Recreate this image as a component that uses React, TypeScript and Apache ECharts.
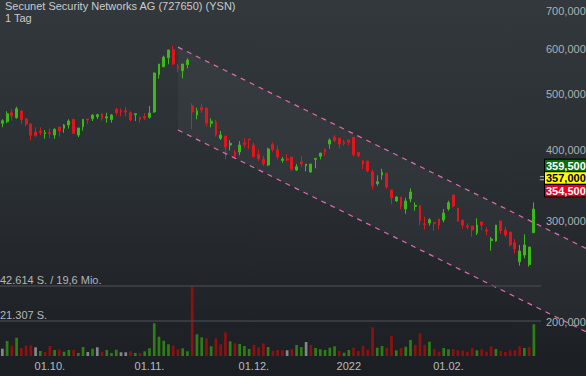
import React, { useEffect, useRef } from "react";
import * as echarts from "echarts";

const TITLE = "Secunet Security Networks AG (727650) (YSN)";
const PERIOD = "1 Tag";

// daily candles, EUR: [open, close, low, high]
const candles: number[][] = [
  [445.0, 449.6, 437.9, 452.2], [447.8, 462.4, 445.0, 467.0], [464.3, 458.7, 449.6, 470.7], [455.1, 471.9, 453.3, 475.7],
  [467.5, 451.4, 443.2, 468.8], [452.7, 443.7, 439.6, 454.5], [443.7, 423.9, 415.5, 445.0], [429.6, 423.2, 421.5, 437.9],
  [431.4, 428.9, 423.9, 437.9], [426.7, 428.5, 418.2, 433.1], [428.9, 427.2, 418.9, 436.1], [424.4, 434.3, 418.2, 436.1],
  [438.4, 431.4, 421.5, 438.4], [436.1, 441.9, 428.2, 443.7], [441.9, 449.1, 435.4, 452.2], [452.2, 427.2, 426.1, 452.2],
  [424.4, 436.7, 421.0, 436.7], [438.9, 452.2, 431.9, 452.2], [452.7, 450.9, 443.2, 452.7], [453.3, 460.0, 449.1, 461.3],
  [456.9, 460.6, 452.7, 462.4], [461.9, 454.0, 449.6, 463.2], [454.5, 456.9, 446.1, 464.3], [451.8, 460.0, 446.1, 461.9],
  [470.7, 464.3, 459.5, 473.2], [468.1, 466.2, 457.6, 472.6], [468.1, 465.6, 457.6, 475.1], [464.3, 450.9, 448.6, 467.0],
  [460.6, 462.4, 449.1, 463.8], [455.8, 452.2, 446.1, 457.6], [456.9, 454.5, 450.9, 463.8], [455.8, 463.8, 453.3, 477.0],
  [465.6, 544.8, 464.3, 545.5], [541.1, 564.9, 532.4, 564.9], [558.8, 581.0, 557.5, 584.1], [579.4, 597.6, 564.2, 597.6],
  [598.3, 564.9, 562.6, 607.3], [560.3, 555.9, 546.3, 564.9], [549.9, 564.9, 533.3, 564.9], [563.3, 574.0, 555.2, 578.0],
  [477.6, 465.6, 434.3, 482.2], [460.0, 468.1, 452.2, 473.8], [474.5, 469.4, 463.8, 481.4], [473.2, 445.0, 439.6, 473.2],
  [445.0, 448.6, 437.9, 454.0], [447.3, 424.4, 421.5, 450.9], [418.9, 424.4, 416.0, 431.4], [422.7, 404.9, 384.9, 422.7],
  [407.7, 410.5, 399.1, 415.5], [396.4, 390.1, 386.4, 399.6], [396.4, 407.7, 391.1, 414.3], [411.5, 408.8, 403.9, 418.9],
  [417.7, 416.5, 401.7, 417.7], [407.7, 389.0, 388.0, 411.5], [392.7, 385.8, 382.7, 400.7], [385.3, 377.7, 374.7, 390.5],
  [376.2, 401.2, 374.7, 403.3], [408.8, 400.1, 396.9, 412.2], [400.1, 389.0, 384.9, 407.2], [383.3, 385.3, 379.6, 388.5],
  [385.8, 383.8, 381.8, 393.2], [388.5, 370.2, 367.3, 388.5], [368.7, 373.6, 367.3, 377.7], [381.2, 377.7, 373.2, 389.6],
  [375.1, 377.7, 366.8, 377.7], [365.8, 377.7, 364.7, 377.7], [384.9, 386.4, 371.2, 386.4], [389.6, 394.8, 384.9, 394.8],
  [401.2, 396.9, 390.1, 401.2], [409.3, 416.0, 401.7, 418.9], [420.6, 414.9, 412.7, 424.4], [418.9, 409.3, 401.7, 418.9],
  [412.7, 410.5, 406.6, 416.0], [416.0, 412.7, 407.2, 416.0], [420.6, 392.1, 389.0, 420.6], [395.9, 390.1, 388.0, 395.9],
  [382.3, 377.7, 370.2, 383.8], [382.3, 367.3, 365.3, 382.3], [366.2, 346.1, 341.2, 369.7], [349.0, 351.8, 346.1, 360.9],
  [361.3, 365.3, 354.6, 370.6], [364.2, 344.3, 342.0, 364.2], [340.2, 329.8, 321.2, 340.2], [325.5, 330.8, 324.6, 331.7],
  [330.8, 319.0, 314.8, 330.8], [315.2, 325.5, 309.2, 329.8], [328.1, 337.5, 323.8, 342.5], [318.6, 319.9, 313.0, 323.6],
  [319.4, 300.7, 295.1, 319.4], [297.0, 295.9, 290.4, 305.5], [297.9, 301.9, 294.7, 303.6], [298.7, 297.5, 288.8, 298.7],
  [302.7, 295.5, 290.4, 302.7], [301.5, 310.1, 298.7, 315.2], [315.2, 323.3, 313.0, 325.9], [333.4, 319.0, 316.9, 333.4],
  [316.4, 300.3, 299.5, 316.4], [301.5, 295.5, 291.1, 301.5], [294.3, 293.1, 290.4, 297.5], [294.3, 289.6, 281.9, 294.3],
  [286.1, 295.5, 283.8, 303.6], [299.1, 295.5, 289.3, 299.1], [289.6, 288.4, 283.8, 292.7], [277.4, 279.3, 266.5, 281.5],
  [277.1, 295.5, 276.3, 295.5], [300.3, 288.8, 285.0, 300.3], [289.6, 283.8, 281.5, 293.5], [287.3, 272.7, 270.9, 287.3],
  [275.2, 268.3, 263.7, 279.3], [254.9, 266.2, 250.9, 272.7], [261.9, 272.7, 258.4, 284.6], [251.9, 270.5, 249.9, 270.5],
  [286.5, 315.2, 286.5, 323.6],
];

// daily volume (shares)
const volumes: number[] = [
  4425, 9093, 6244, 11093, 4850, 6244, 6486, 5274, 3031, 2425,
  6062, 3637, 3819, 2607, 3637, 3637, 1819, 5456, 2425, 4425,
  5274, 2607, 3637, 1819, 3819, 2243, 2243, 2849, 1819, 1819,
  2849, 4668, 19823, 11700, 9275, 7093, 6244, 4062, 4668, 2849,
  42614, 13155, 11336, 10730, 5880, 10730, 7093, 14367, 8911, 7699,
  7274, 6062, 4243, 6850, 5274, 7699, 5456, 3213, 3637, 3455,
  3455, 4062, 6668, 5456, 8487, 6668, 4850, 4062, 3637, 5031,
  5880, 3031, 2000, 3637, 5031, 3031, 6244, 3819, 17398, 5031,
  6062, 5031, 12124, 3455, 4850, 5638, 9699, 6668, 13761, 6668,
  8669, 4243, 2607, 4850, 4062, 4243, 3455, 3213, 2607, 4850,
  3455, 4062, 2607, 5880, 4243, 3031, 2425, 3455, 3455, 5880,
  4850, 5456, 19217,
];

// volume colour: g = up vs previous close, r = down, n = unchanged
const volumeTrend: string[] = (
  "ngrgrrrngr" + "rgrggrggng" + "nrgggnnrgr" + "ggggggrrgg" + "rggrgrrrgr" +
  "gggrrrgrrr" + "nrggnrgggg" + "grggrrrrrg" + "grrgrggrrr" + "grrggrrrrr" +
  "grrrgrrrrr" + "grg"
).split("");

// trend channel: [candle index, price]
const channelUpper: number[][] = [[37, 604.5], [122.98, 269.0]];
const channelLower: number[][] = [[37, 433.1], [122.98, 192.3]];

const xTickLabels = [
  { index: 10, text: "01.10." },
  { index: 31, text: "01.11." },
  { index: 53, text: "01.12." },
  { index: 73, text: "2022" },
  { index: 94, text: "01.02." },
];
const priceTicks: number[] = [200, 300, 400, 500, 600, 700];
const volumeLevels = [
  { value: 42614, text: "42.614 S. / 19,6 Mio." },
  { value: 21307, text: "21.307 S." },
];
const lastPrice = 357.0;
const quoteTags = [
  { value: 359.5, bg: "#0c6b0c", fg: "#ffffff" },
  { value: 357.0, bg: "#ffff00", fg: "#000000" },
  { value: 354.5, bg: "#e3001b", fg: "#ffffff" },
];

const SLOTS = 114;
const PLOT_W = 541;
const FULL_W = 586;
const BAND = PLOT_W / SLOTS;
const FONT = "'Liberation Sans', Arial, sans-serif";
const UP = "#3cb817";
const DOWN = "#e2151c";
const VOL_COL: Record<string, string> = { g: "#2f7e15", r: "#8d1111", n: "#85888b" };

const fmtPrice = (v: number) => v.toFixed(3).replace(".", ",");

export default function App() {
  const ref = useRef<HTMLDivElement>(null);

  useEffect(() => {
    if (!ref.current) return;
    const chart = echarts.init(ref.current, undefined, { renderer: "svg" });
    const cats = Array.from({ length: SLOTS }, (_, i) => String(i));
    const labelMap: Record<number, string> = {};
    xTickLabels.forEach((t) => (labelMap[t.index] = t.text));

    const option: any = {
      animation: false,
      backgroundColor: "transparent",
      grid: [
        { left: 0, top: 3.7, width: PLOT_W, height: 344.5 },
        { left: 0, top: 285.7, width: PLOT_W, height: 70.3 },
        { left: 0, top: 3.7, width: FULL_W, height: 344.5 },
      ],
      xAxis: [
        { type: "category", gridIndex: 0, data: cats, show: false },
        {
          type: "category",
          gridIndex: 1,
          data: cats,
          axisLine: { show: false },
          axisTick: { show: false },
          splitLine: { show: false },
          axisLabel: {
            interval: (i: number) => labelMap[i] !== undefined,
            formatter: (_v: string, i: number) => labelMap[i] || "",
            color: "#b9bcbe",
            fontSize: 11,
            fontFamily: FONT,
            margin: 4,
          },
        },
        { type: "value", gridIndex: 2, min: -0.5, max: -0.5 + FULL_W / BAND, show: false },
      ],
      yAxis: [
        { type: "log", gridIndex: 0, min: 180, max: 720, show: false },
        { type: "value", gridIndex: 1, min: 0, max: 42614, show: false },
        { type: "log", gridIndex: 2, min: 180, max: 720, show: false },
      ],
      series: [
        {
          type: "custom",
          xAxisIndex: 2,
          yAxisIndex: 2,
          z: 1,
          silent: true,
          data: [[channelUpper[0][0], channelUpper[0][1]]],
          renderItem: (_p: any, api: any) => {
            const pts = [
              api.coord(channelUpper[0]),
              api.coord(channelUpper[1]),
              api.coord(channelLower[1]),
              api.coord(channelLower[0]),
            ];
            return { type: "polygon", shape: { points: pts }, style: { fill: "rgba(255,255,255,0.035)" } };
          },
        },
        {
          type: "candlestick",
          xAxisIndex: 0,
          yAxisIndex: 0,
          z: 3,
          barWidth: 2.3,
          data: candles,
          itemStyle: { color: UP, color0: DOWN, borderColor: UP, borderColor0: DOWN, borderWidth: 1 },
        },
        {
          type: "bar",
          xAxisIndex: 1,
          yAxisIndex: 1,
          z: 3,
          barWidth: 2.7,
          data: volumes.map((v, i) => ({ value: v, itemStyle: { color: VOL_COL[volumeTrend[i]] } })),
          markLine: {
            silent: true,
            symbol: ["none", "none"],
            label: { show: false },
            lineStyle: { color: "#404448", width: 1.6, type: "solid" },
            data: volumeLevels.map((l) => ({ yAxis: l.value })),
          },
        },
        ...[channelUpper, channelLower].map((c) => ({
          type: "line",
          xAxisIndex: 2,
          yAxisIndex: 2,
          z: 4,
          silent: true,
          symbol: "none",
          data: c,
          lineStyle: { color: "#e36bb5", width: 1.2, type: [5, 5] },
        })),
      ],
    };
    chart.setOption(option);

    const py = (v: number) => chart.convertToPixel({ yAxisIndex: 0 }, v) as number;
    const vy = (v: number) => chart.convertToPixel({ yAxisIndex: 1 }, v) as number;
    const txt = (x: number, y: number, text: string, extra: any = {}) => ({
      type: "text",
      x,
      y,
      silent: true,
      z: 10,
      style: {
        text,
        fill: "#c8cbcd",
        font: `11px ${FONT}`,
        lineHeight: 10,
        verticalAlign: "middle",
        align: "left",
        ...extra,
      },
    });
    const graphics: any[] = [
      txt(5, 6.0, TITLE),
      txt(5, 17.6, PERIOD),
      ...priceTicks.map((v) => txt(546, py(v), fmtPrice(v), { fill: "#aeb1b3" })),
      ...volumeLevels.map((l) => txt(0, vy(l.value) - 6.2, l.text, { fill: "#b4b7b9" })),
    ];
    const yc = py(lastPrice);
    const H = 12.6;
    quoteTags.forEach((t, i) => {
      const top = yc - H / 2 + (i - 1) * H;
      graphics.push({
        type: "rect",
        z: 11,
        silent: true,
        shape: { x: 544.5, y: top, width: 42, height: H },
        style: { fill: t.bg, stroke: "#000000", lineWidth: 1 },
      });
      graphics.push({
        type: "text",
        z: 12,
        silent: true,
        x: 546,
        y: top + H / 2 + 0.3,
        style: {
          text: fmtPrice(t.value),
          fill: t.fg,
          font: `bold 11px ${FONT}`,
          lineHeight: 10,
          verticalAlign: "middle",
          align: "left",
        },
      });
    });
    graphics.push(txt(539.5, yc, "=", { fill: "#9a9da0", font: `bold 10px ${FONT}` }));
    chart.setOption({ graphic: graphics });

    return () => chart.dispose();
  }, []);

  return (
    <div
      ref={ref}
      style={{
        position: "fixed",
        left: 0,
        top: 0,
        width: FULL_W,
        height: 376,
        background: "linear-gradient(to bottom, #32383b 0%, #2a2f33 45%, #1b1e22 100%)",
      }}
    />
  );
}
